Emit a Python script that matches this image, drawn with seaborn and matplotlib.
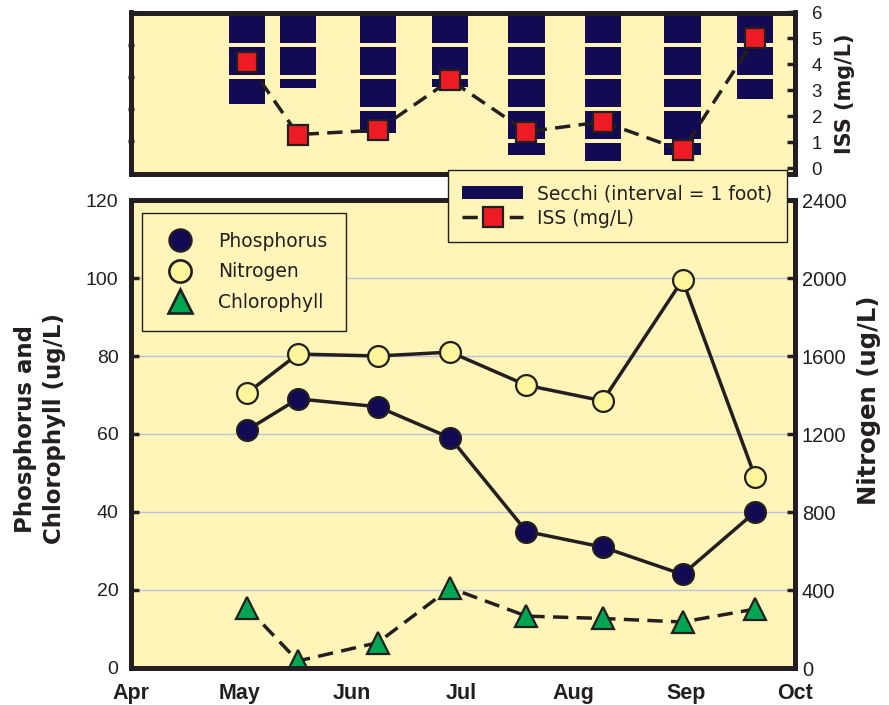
import matplotlib
matplotlib.use('Agg')
import matplotlib.pyplot as plt
from matplotlib.lines import Line2D
from matplotlib.patches import Patch
import seaborn as sns
import pandas as pd
import numpy as np

# sampling dates and measured values
sample_dates = ['2005-05-03', '2005-05-17', '2005-06-08', '2005-06-28',
                '2005-07-19', '2005-08-09', '2005-08-31', '2005-09-20']
phosphorus = [61, 69, 67, 59, 35, 31, 24, 40]
nitrogen = [1410, 1610, 1600, 1620, 1450, 1370, 1990, 980]
chlorophyll = [15.5, 1.8, 6.5, 20.5, 13.3, 12.7, 11.8, 15.1]
secchi_ft = [2.83, 2.35, 3.74, 2.32, 4.42, 4.6, 4.42, 2.68]
iss = [4.1, 1.3, 1.47, 3.4, 1.41, 1.79, 0.69, 5.0]

month_ticks = ['2005-04-01', '2005-05-01', '2005-06-01', '2005-07-01',
               '2005-08-01', '2005-09-01', '2005-10-01']
month_labels = ['Apr', 'May', 'Jun', 'Jul', 'Aug', 'Sep', 'Oct']
left_ticks = [0, 20, 40, 60, 80, 100, 120]
right_ticks = [0, 400, 800, 1200, 1600, 2000, 2400]
iss_ticks = [0, 1, 2, 3, 4, 5, 6]

bg = '#fff5b9'
navy = '#120a52'
dark = '#231f20'
red = '#ed1c24'
green = '#00a651'
pale = '#fff59a'
grid_c = '#b8c2da'

sns.set_style('white')
plt.rcParams['font.family'] = ['Liberation Sans', 'DejaVu Sans']
plt.rcParams['text.color'] = dark
plt.rcParams['xtick.color'] = dark
plt.rcParams['ytick.color'] = dark

dates = pd.to_datetime(sample_dates)
W, H = 889, 705
fig = plt.figure(figsize=(8.89, 7.05), dpi=100)
ax_main = fig.add_axes([131 / W, (H - 668) / H, 664 / W, 468 / H])
ax_top = fig.add_axes([131 / W, (H - 173.5) / H, 664 / W, 161 / H], sharex=ax_main)
ax_n = ax_main.twinx()
ax_iss = ax_top.twinx()

for ax in [ax_main, ax_top]:
    ax.set_facecolor(bg)
for ax in [ax_main, ax_top, ax_n, ax_iss]:
    for sp in ax.spines.values():
        sp.set_linewidth(3.5)
        sp.set_color(dark)

dash = (0, (4.4, 2.4))
line_kw = dict(color=dark, lw=2.5, mec=dark, mew=1.6)

# main panel
sns.lineplot(x=dates, y=phosphorus, ax=ax_main, marker='o', ms=15, mfc=navy, zorder=3, **line_kw)
sns.lineplot(x=dates, y=chlorophyll, ax=ax_main, marker='^', ms=16, mfc=green, linestyle=dash,
             zorder=3, **line_kw)
sns.lineplot(x=dates, y=nitrogen, ax=ax_n, marker='o', ms=15, mfc=pale, zorder=3, **line_kw)

ax_main.set_ylim(0, 120)
ax_n.set_ylim(0, 2400)
ax_main.set_yticks(left_ticks)
ax_n.set_yticks(right_ticks)
ax_main.yaxis.grid(True, color=grid_c, lw=1)
ax_main.set_axisbelow(True)
ax_main.set_xlim(pd.Timestamp(month_ticks[0]), pd.Timestamp(month_ticks[-1]))
ax_main.set_xticks(pd.to_datetime(month_ticks), month_labels)
ax_main.tick_params(axis='x', direction='in', length=7, width=2.5, pad=11, labelsize=15.5)
for lab in ax_main.get_xticklabels():
    lab.set_fontweight('bold')
ax_main.tick_params(axis='y', direction='in', length=6, width=2.5, pad=9, labelsize=14)
ax_n.tick_params(axis='y', direction='in', length=6, width=2.5, pad=5, labelsize=14.5)
ax_main.set_xlabel('')
ax_main.set_ylabel('')
ax_n.set_ylabel('')

# top panel: secchi bars split at every foot, ISS line on the right axis
gap = 0.06
for day, depth in zip(dates, secchi_ft):
    for k in range(int(np.ceil(depth))):
        start = k + gap
        end = min(k + 1 - gap, depth)
        ax_top.bar(day, end - start, bottom=start, width=10, color=navy, linewidth=0)
ax_top.set_ylim(5, 0)
ax_top.set_yticks([1, 2, 3, 4])
ax_top.tick_params(axis='y', labelleft=False, direction='inout', length=4, width=2.5)
ax_top.tick_params(axis='x', bottom=False, labelbottom=False)

sns.lineplot(x=dates, y=iss, ax=ax_iss, marker='s', ms=14, mfc=red, linestyle=dash, **line_kw)
ax_iss.set_ylim(-0.2, 6)
ax_iss.set_yticks(iss_ticks)
ax_iss.tick_params(axis='y', direction='in', length=6, width=2.5, pad=12, labelsize=13.5)
ax_iss.set_ylabel('')
ax_top.set_ylabel('')

# axis titles
fig.text(40 / W, 1 - 429 / H, 'Phosphorus and\nChlorophyll (ug/L)', rotation=90, ha='center',
         va='center', fontsize=16.5, fontweight='bold', family='DejaVu Sans', linespacing=1.3)
fig.text(869 / W, 1 - 400 / H, 'Nitrogen (ug/L)', rotation=90, ha='center', va='center',
         fontsize=17.5, fontweight='bold', family='DejaVu Sans')
fig.text(845 / W, 1 - 94 / H, 'ISS (mg/L)', rotation=90, ha='center', va='center',
         fontsize=15, fontweight='bold', family='DejaVu Sans')

# legends
h1 = [Line2D([], [], ls='none', marker='o', ms=16, mfc=navy, mec=dark, mew=1.6, label='Phosphorus'),
      Line2D([], [], ls='none', marker='o', ms=16, mfc=pale, mec=dark, mew=1.9, label='Nitrogen'),
      Line2D([], [], ls='none', marker='^', ms=17.5, mfc=green, mec=dark, mew=1.9, label='Chlorophyll')]
leg1 = fig.legend(handles=h1, loc='upper left', bbox_to_anchor=(142 / W, 1 - 213 / H), borderaxespad=0,
                  frameon=True, fancybox=False, edgecolor=dark, facecolor=bg, framealpha=1,
                  prop={'family': 'DejaVu Sans', 'size': 13.5}, borderpad=1.0, labelspacing=0.62,
                  handlelength=2.05, handletextpad=1.0)
leg1.get_frame().set_linewidth(1.0)

h2 = [Patch(facecolor=navy, edgecolor='none', label='Secchi (interval = 1 foot)'),
      Line2D([], [], color=dark, lw=2.5, ls=dash, marker='s', ms=14, mfc=red, mec=dark, mew=1.6,
             label='ISS (mg/L)')]
leg2 = fig.legend(handles=h2, loc='upper left', bbox_to_anchor=(448 / W, 1 - 170 / H), borderaxespad=0,
                  frameon=True, fancybox=False, edgecolor=dark, facecolor=bg, framealpha=1,
                  prop={'family': 'DejaVu Sans', 'size': 13.5}, borderpad=0.75, labelspacing=0.3,
                  handlelength=3.25, handletextpad=0.76)
leg2.get_frame().set_linewidth(1.0)

fig.savefig('out.png', dpi=100)
